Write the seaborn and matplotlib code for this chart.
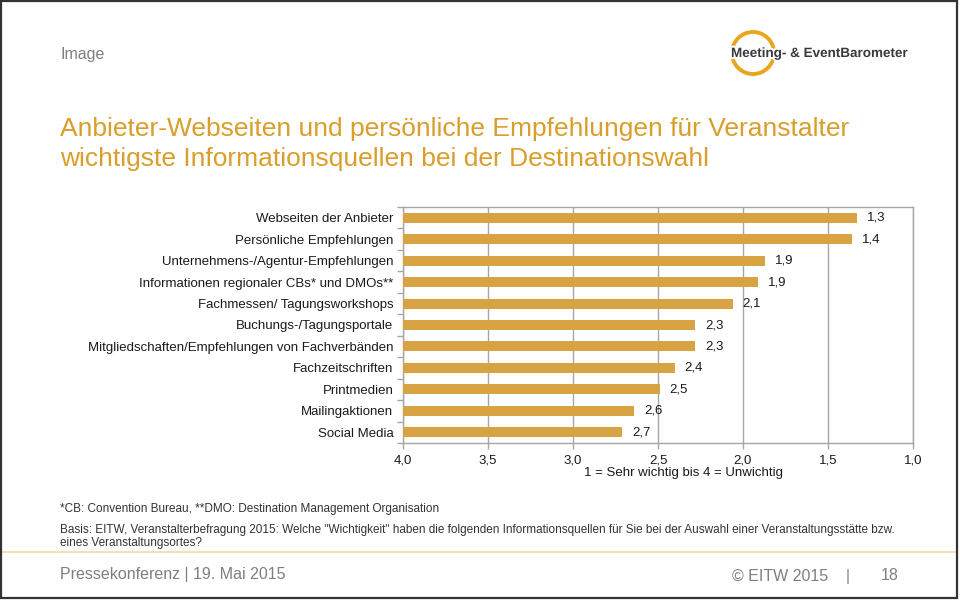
import matplotlib
matplotlib.use("Agg")
import matplotlib.pyplot as plt
import matplotlib.patheffects as pe
from matplotlib.patches import Rectangle, Arc
from matplotlib.ticker import FixedLocator
import seaborn as sns
import pandas as pd

# ---- data ----
categories = [
    "Webseiten der Anbieter",
    "Persönliche Empfehlungen",
    "Unternehmens-/Agentur-Empfehlungen",
    "Informationen regionaler CBs* und DMOs**",
    "Fachmessen/ Tagungsworkshops",
    "Buchungs-/Tagungsportale",
    "Mitgliedschaften/Empfehlungen von Fachverbänden",
    "Fachzeitschriften",
    "Printmedien",
    "Mailingaktionen",
    "Social Media",
]
values = [1.33, 1.36, 1.87, 1.91, 2.06, 2.28, 2.28, 2.40, 2.49, 2.64, 2.71]
scale_max = 4.0
scale_min = 1.0
tick_values = [4.0, 3.5, 3.0, 2.5, 2.0, 1.5, 1.0]

BAR = "#D8A443"
GOLD = "#D99E2B"
GRID = "#A6A6A6"
TXT = "#1A1A1A"
GREY = "#7F7F7F"

sns.set_theme(style="white")
plt.rcParams["font.family"] = ["Liberation Sans", "DejaVu Sans"]

df = pd.DataFrame({"cat": categories, "dist": [scale_max - v for v in values]})

fig = plt.figure(figsize=(9.6, 6.01), dpi=100)
ax = fig.add_axes([403 / 960, 1 - 443 / 601, 510 / 960, 236 / 601])

sns.barplot(data=df, x="dist", y="cat", orient="h", color=BAR, width=0.47,
            saturation=1, ax=ax, zorder=3)
for p in ax.patches:
    p.set_edgecolor("none")

ax.set_xlim(0, scale_max - scale_min)
ax.set_ylim(len(categories) - 0.5, -0.5)
xt = [scale_max - t for t in tick_values]
ax.set_xticks(xt)
ax.set_xticklabels([f"{t:.1f}".replace(".", ",") for t in tick_values], fontsize=9.5, color=TXT)
ax.xaxis.grid(True, color=GRID, linewidth=1.0, zorder=0)
ax.set_axisbelow(True)
ax.tick_params(axis="x", which="major", direction="out", length=4, width=1, color=GRID, pad=4,
               bottom=True)

ax.set_yticks(range(len(categories)))
ax.set_yticklabels(categories, fontsize=9.5, color=TXT)
ax.yaxis.set_minor_locator(FixedLocator([i - 0.5 for i in range(len(categories) + 1)]))
ax.tick_params(axis="y", which="major", length=0, pad=7)
ax.tick_params(axis="y", which="minor", direction="out", length=4, width=1, color=GRID, left=True)
for s in ax.spines.values():
    s.set_visible(True)
    s.set_color(GRID)
    s.set_linewidth(1.0)

ax.set_ylabel("")
ax.set_xlabel("1 = Sehr wichtig bis 4 = Unwichtig", fontsize=9.5, color=TXT)
ax.xaxis.set_label_coords((683 - 403) / 510, -(467 - 443) / 236)

for i, v in enumerate(values):
    ax.annotate(f"{v:.1f}".replace(".", ","), xy=(scale_max - v, i), xytext=(7, 0),
                textcoords="offset points", ha="left", va="center", fontsize=9.5, color=TXT,
                zorder=4)

# ---- page decorations ----
fig.text(60 / 960, 1 - 55 / 601, "Image", fontsize=11.5, color=GREY, va="center", ha="left")
fig.text(60 / 960, 1 - 129 / 601, "Anbieter-Webseiten und persönliche Empfehlungen für Veranstalter",
         fontsize=19, color=GOLD, va="center", ha="left")
fig.text(60 / 960, 1 - 159 / 601, "wichtigste Informationsquellen bei der Destinationswahl",
         fontsize=19, color=GOLD, va="center", ha="left")

# logo
logo_ax = fig.add_axes([0, 0, 1, 1], facecolor="none")
logo_ax.set_xlim(0, 960)
logo_ax.set_ylim(601, 0)
logo_ax.axis("off")
logo_ax.add_patch(Arc((753, 53), 42, 42, theta1=0, theta2=360, color="#EAA51E", lw=2.8))
logo_ax.text(731, 54, "Meeting- & EventBarometer", fontsize=9.7, fontweight="bold", color="#3A3A3A",
             va="center", ha="left",
             path_effects=[pe.withStroke(linewidth=3, foreground="white")])

fig.text(60 / 960, 1 - 509 / 601, "*CB: Convention Bureau, **DMO: Destination Management Organisation",
         fontsize=8.5, color="#333333", va="center", ha="left")
fig.text(60 / 960, 1 - 530 / 601,
         'Basis: EITW, Veranstalterbefragung 2015: Welche "Wichtigkeit" haben die folgenden Informationsquellen für Sie bei der Auswahl einer Veranstaltungsstätte bzw.',
         fontsize=8.5, color="#333333", va="center", ha="left")
fig.text(60 / 960, 1 - 543 / 601, "eines Veranstaltungsortes?",
         fontsize=8.5, color="#333333", va="center", ha="left")

logo_ax.plot([2, 955], [552, 552], color="#EEDDA8", lw=1.2)

fig.text(60 / 960, 1 - 574 / 601, "Pressekonferenz | 19. Mai 2015", fontsize=11.5, color=GREY,
         va="center", ha="left")
fig.text(732 / 960, 1 - 576 / 601, "© EITW 2015", fontsize=11.5, color=GREY, va="center", ha="left")
fig.text(848 / 960, 1 - 576 / 601, "|", fontsize=11.5, color=GREY, va="center", ha="center")
fig.text(899 / 960, 1 - 576 / 601, "18", fontsize=11.5, color=GREY, va="center", ha="right")

fig.patches.append(Rectangle((1 / 960, 3 / 601), 956 / 960, 597 / 601, transform=fig.transFigure,
                             fill=False, edgecolor="#333333", lw=1.6))

fig.savefig("out.png", dpi=100)
